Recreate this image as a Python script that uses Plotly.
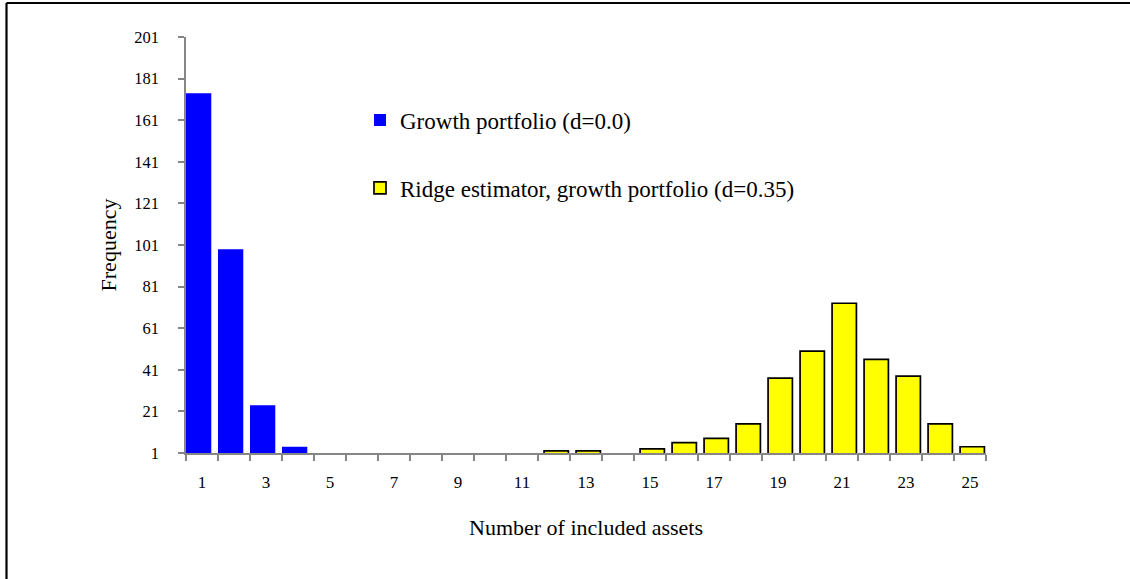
import plotly.graph_objects as go

# ---- data ----
assets = list(range(1, 26))
growth = [174, 99, 24, 4] + [None] * 21
ridge = [None] * 11 + [2, 2, None, 3, 6, 8, 15, 37, 50, 73, 46, 38, 15, 4]
y_ticks = list(range(1, 202, 20))
x_ticks = list(range(1, 26, 2))

W, H = 1130, 579
L, R, T, B = 186, 144, 37, 126
PW, PH = W - L - R, H - T - B

FONT = "Liberation Serif"

def px_x(p):
    return (p - L) / PW

def px_y(p):
    return (H - B - p) / PH

fig = go.Figure()
fig.add_trace(go.Bar(
    x=assets, y=growth, name="Growth portfolio (d=0.0)",
    marker=dict(color="#0000FF", line=dict(width=0)),
    width=0.79, offset=-0.5, legend="legend", showlegend=True,
))
fig.add_trace(go.Bar(
    x=assets, y=ridge, name="Ridge estimator, growth portfolio (d=0.35)",
    marker=dict(color="#FFFF00", line=dict(color="#000000", width=1.7)),
    width=0.76, offset=-0.31, legend="legend2", showlegend=True,
))

axis_grey = "#868686"
fig.update_layout(
    width=W, height=H,
    showlegend=True,
    margin=dict(l=L, r=R, t=T, b=B, autoexpand=False),
    paper_bgcolor="white", plot_bgcolor="white",
    barmode="overlay",
    font=dict(family=FONT, color="black", size=16),
    xaxis=dict(
        range=[0.5, 25.5], tickmode="array", tickvals=x_ticks,
        ticktext=[str(v) for v in x_ticks], ticks="", showgrid=False,
        zeroline=False, showline=True, linecolor=axis_grey, linewidth=1.5,
        tickfont=dict(family=FONT, size=17), ticklabelstandoff=13,
        minor=dict(tick0=0.5, dtick=1, ticks="outside", ticklen=6,
                   tickcolor=axis_grey, tickwidth=1.5, showgrid=False),
        title=dict(text="Number of included assets", font=dict(family=FONT, size=22), standoff=28),
        fixedrange=True,
    ),
    yaxis=dict(
        range=[1, 201], tickmode="array", tickvals=y_ticks,
        ticktext=[str(v) for v in y_ticks], ticks="outside", ticklen=6,
        tickcolor=axis_grey, tickwidth=1.5, showgrid=False, zeroline=False,
        showline=True, linecolor=axis_grey, linewidth=1.5,
        tickfont=dict(family=FONT, size=16.5), ticklabelstandoff=16,
        title=dict(text="Frequency", font=dict(family=FONT, size=22), standoff=12),
        fixedrange=True,
    ),
    legend=dict(x=px_x(360), y=px_y(120), xanchor="left", yanchor="middle",
                font=dict(family=FONT, size=23), bgcolor="rgba(0,0,0,0)"),
    legend2=dict(x=px_x(360), y=px_y(188), xanchor="left", yanchor="middle",
                 font=dict(family=FONT, size=23), bgcolor="rgba(0,0,0,0)"),
    shapes=[
        dict(type="line", xref="paper", yref="paper", x0=px_x(6.5), x1=px_x(W + 5),
             y0=px_y(3), y1=px_y(3), line=dict(color="black", width=2.2)),
        dict(type="line", xref="paper", yref="paper", x0=px_x(6.5), x1=px_x(6.5),
             y0=px_y(3), y1=px_y(H + 5), line=dict(color="black", width=2.2)),
    ],
)

fig.write_html("out.html", config={"displayModeBar": False},
               post_script="document.body.style.margin='0';document.body.style.overflow='hidden';")
